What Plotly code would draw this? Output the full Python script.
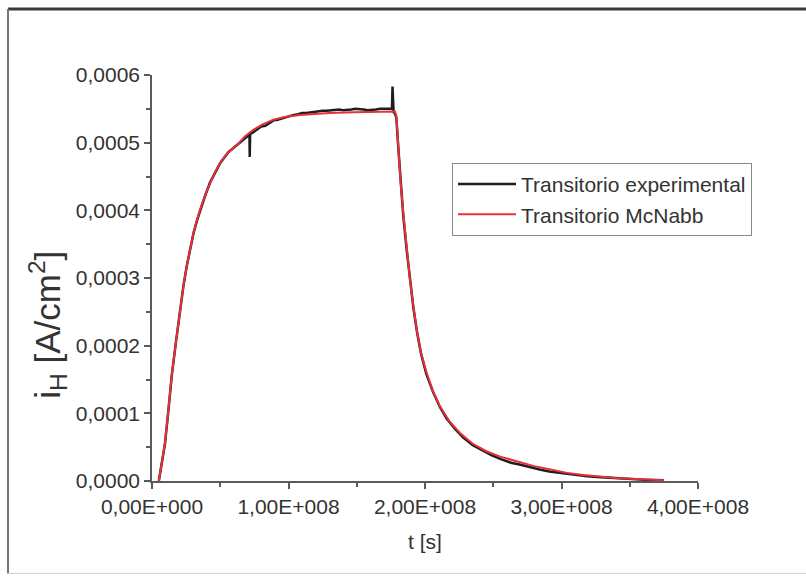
import plotly.graph_objects as go

# Hydrogen permeation transient: time (1e8 s) and current density (1e-4 A/cm2)
t_exp = [0.05, 0.07, 0.095, 0.12, 0.145, 0.175, 0.205, 0.23, 0.255, 0.28, 0.305, 0.33,
         0.355, 0.39, 0.425, 0.46, 0.50, 0.53, 0.56, 0.59, 0.62, 0.65, 0.68, 0.70, 0.714,
         0.716, 0.719, 0.74, 0.77, 0.80, 0.83, 0.86, 0.89, 0.92, 0.95, 0.98, 1.01, 1.04,
         1.07, 1.10, 1.13, 1.16, 1.19, 1.22, 1.25, 1.28, 1.31, 1.34, 1.37, 1.40, 1.43,
         1.46, 1.49, 1.52, 1.55, 1.58, 1.61, 1.64, 1.67, 1.70, 1.73, 1.75, 1.758, 1.762,
         1.766, 1.77, 1.78, 1.79, 1.805, 1.82, 1.84, 1.865, 1.89, 1.915, 1.94, 1.97, 2.01,
         2.06, 2.11, 2.16, 2.22, 2.28, 2.35, 2.42, 2.49, 2.56, 2.63, 2.70, 2.77, 2.84,
         2.91, 2.98, 3.05, 3.12, 3.19, 3.26, 3.33, 3.40, 3.47, 3.54, 3.61, 3.68, 3.75]
i_exp = [0.00, 0.24, 0.55, 1.04, 1.56, 2.05, 2.52, 2.88, 3.18, 3.44, 3.67, 3.85,
         4.02, 4.22, 4.41, 4.55, 4.70, 4.78, 4.86, 4.91, 4.96, 5.02, 5.06, 5.10, 5.12,
         4.79, 5.13, 5.15, 5.20, 5.24, 5.25, 5.29, 5.33, 5.34, 5.36, 5.38, 5.40, 5.41,
         5.42, 5.44, 5.44, 5.45, 5.46, 5.46, 5.47, 5.47, 5.48, 5.48, 5.49, 5.48, 5.48,
         5.49, 5.50, 5.50, 5.49, 5.48, 5.48, 5.49, 5.50, 5.50, 5.49, 5.50, 5.50, 5.83,
         5.47, 5.45, 5.43, 5.37, 4.91, 4.43, 3.94, 3.43, 2.96, 2.56, 2.22, 1.89, 1.58,
         1.31, 1.09, 0.92, 0.77, 0.64, 0.53, 0.45, 0.38, 0.32, 0.27, 0.24, 0.20, 0.17,
         0.14, 0.12, 0.10, 0.085, 0.07, 0.06, 0.05, 0.04, 0.035, 0.03, 0.02, 0.015, 0.01]

t_fit = [0.05, 0.07, 0.095, 0.12, 0.144, 0.175, 0.205, 0.23, 0.254, 0.28, 0.303, 0.33,
         0.352, 0.39, 0.425, 0.46, 0.498, 0.55, 0.62, 0.68, 0.742, 0.81, 0.889, 0.97,
         1.084, 1.2, 1.3, 1.475, 1.6, 1.7, 1.78, 1.79, 1.804, 1.82, 1.841, 1.865, 1.89,
         1.915, 1.939, 1.97, 2.012, 2.06, 2.11, 2.18, 2.256, 2.35, 2.45, 2.55, 2.70,
         2.80, 2.92, 3.04, 3.16, 3.28, 3.40, 3.53, 3.65, 3.75]
i_fit = [0.00, 0.25, 0.56, 1.05, 1.55, 2.05, 2.53, 2.88, 3.17, 3.45, 3.66, 3.86,
         4.01, 4.23, 4.40, 4.56, 4.70, 4.84, 4.96, 5.09, 5.19, 5.27, 5.34, 5.38,
         5.41, 5.43, 5.44, 5.45, 5.45, 5.46, 5.46, 5.40, 4.94, 4.45, 3.96, 3.45, 2.97,
         2.58, 2.24, 1.90, 1.60, 1.32, 1.10, 0.88, 0.71, 0.55, 0.44, 0.36, 0.27,
         0.22, 0.17, 0.12, 0.09, 0.065, 0.045, 0.03, 0.02, 0.012]

x_ticks = [0, 1e8, 2e8, 3e8, 4e8]
x_labels = ["0,00E+000", "1,00E+008", "2,00E+008", "3,00E+008", "4,00E+008"]
y_ticks = [0, 1e-4, 2e-4, 3e-4, 4e-4, 5e-4, 6e-4]
y_labels = ["0,0000", "0,0001", "0,0002", "0,0003", "0,0004", "0,0005", "0,0006"]

W, H = 806, 576
L, R, T, B = 152, 698, 75, 481.5

def px(x):
    return (x - L) / (R - L)

def py(y):
    return (B - y) / (B - T)

FONT = "Liberation Sans, Arial, sans-serif"
INK = "#333333"
AX = "#5a5a5a"

fig = go.Figure()
fig.add_trace(go.Scatter(
    x=[v * 1e8 for v in t_exp], y=[v * 1e-4 for v in i_exp],
    mode="lines", name="Transitorio experimental",
    line=dict(color="#1e1e1e", width=2.5)))
fig.add_trace(go.Scatter(
    x=[v * 1e8 for v in t_fit], y=[v * 1e-4 for v in i_fit],
    mode="lines", name="Transitorio McNabb",
    line=dict(color="#e8303c", width=2)))

axis_common = dict(
    showline=True, linecolor=AX, linewidth=1.5,
    ticks="outside", ticklen=6, tickwidth=1.5, tickcolor=AX,
    showgrid=False, zeroline=False,
    tickfont=dict(family=FONT, size=21, color=INK),
)

fig.update_xaxes(range=[0, 4e8], tickvals=x_ticks, ticktext=x_labels,
                 minor=dict(ticks="outside", ticklen=4, tickwidth=1.5,
                            tickcolor=AX, dtick=5e7, tick0=0),
                 **axis_common)
fig.update_yaxes(range=[0, 6e-4], tickvals=y_ticks, ticktext=y_labels,
                 minor=dict(ticks="outside", ticklen=4, tickwidth=1.5,
                            tickcolor=AX, dtick=5e-5, tick0=0),
                 **axis_common)

fig.add_annotation(text="t [s]", x=px(425), y=py(542), xref="paper", yref="paper",
                   xanchor="center", yanchor="middle",
                   showarrow=False, font=dict(family=FONT, size=21, color=INK))
fig.add_annotation(text="i<sub>H</sub> [A/cm<sup>2</sup>]", x=px(48), y=py(325),
                   xref="paper", yref="paper", textangle=-90, showarrow=False,
                   xanchor="center", yanchor="middle",
                   font=dict(family=FONT, size=35, color=INK))

# outer frame
fig.add_shape(type="line", xref="paper", yref="paper",
              x0=px(8), x1=px(806), y0=py(9), y1=py(9),
              line=dict(color="#3a3a3a", width=3))
fig.add_shape(type="line", xref="paper", yref="paper",
              x0=px(8), x1=px(8), y0=py(9), y1=py(574),
              line=dict(color="#777777", width=2))
fig.add_shape(type="line", xref="paper", yref="paper",
              x0=px(8), x1=px(806), y0=py(574), y1=py(574),
              line=dict(color="#cccccc", width=1))

fig.update_layout(
    width=W, height=H,
    margin=dict(l=L, r=W - R, t=T, b=H - B, pad=0),
    paper_bgcolor="white", plot_bgcolor="white",
    showlegend=True,
    legend=dict(x=px(452), y=py(163), xanchor="left", yanchor="top",
                bordercolor="#888888", borderwidth=1, bgcolor="white",
                font=dict(family=FONT, size=21, color=INK),
                tracegroupgap=0, itemwidth=58),
)

fig.write_html("out.html")
